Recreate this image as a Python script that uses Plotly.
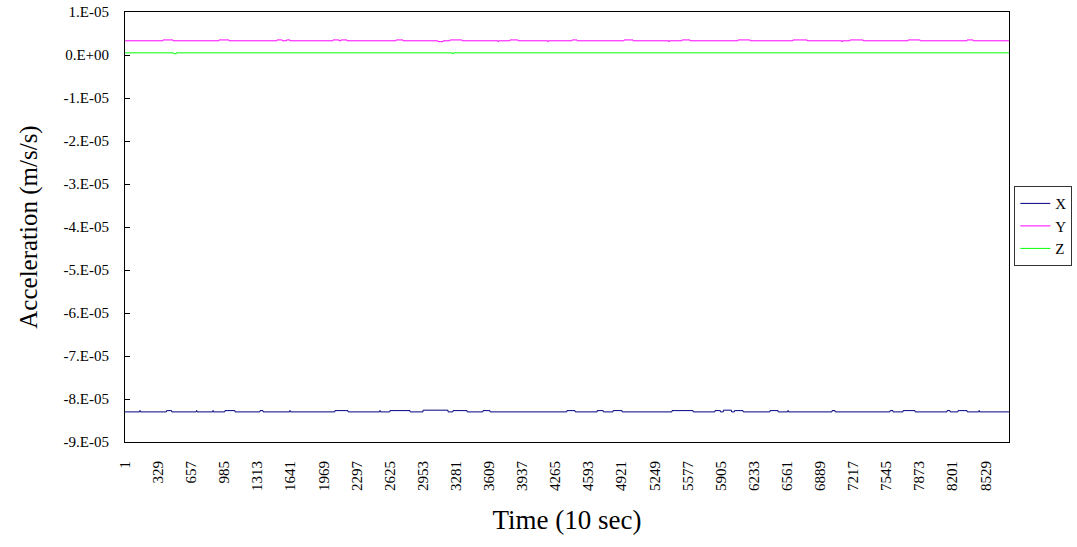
import numpy as np
import plotly.graph_objects as go

# ---- data ----
n_points = 8760                       # time samples (10 sec each)
x_base = -8.30e-05                    # X acceleration baseline
y_base = 3.3e-06                      # Y acceleration baseline
z_base = 5.0e-07                      # Z acceleration baseline

# step deviations: (first sample, last sample, value)
x_steps = [
    (147, 152, -8.27e-05), (413, 463, -8.27e-05), (708, 713, -8.27e-05),
    (871, 876, -8.27e-05), (991, 1090, -8.27e-05), (1338, 1368, -8.27e-05),
    (1633, 1638, -8.27e-05), (2081, 2210, -8.27e-05), (2525, 2530, -8.27e-05),
    (2626, 2825, -8.27e-05), (2954, 3201, -8.26e-05), (3251, 3390, -8.27e-05),
    (3548, 3617, -8.27e-05), (4380, 4460, -8.27e-05), (4680, 4740, -8.27e-05),
    (4837, 4926, -8.27e-05), (5421, 5630, -8.27e-05), (5847, 5900, -8.27e-05),
    (5930, 6010, -8.26e-05), (6040, 6125, -8.27e-05), (6392, 6472, -8.27e-05),
    (6569, 6574, -8.27e-05), (7007, 7037, -8.27e-05), (7582, 7611, -8.27e-05),
    (7711, 7829, -8.27e-05), (8147, 8176, -8.27e-05), (8256, 8345, -8.27e-05),
    (8462, 8467, -8.27e-05),
]
y_steps = [
    (377, 476, 3.5e-06), (932, 1031, 3.5e-06), (1506, 1560, 3.5e-06),
    (1570, 1590, 3.2e-06), (1600, 1635, 3.5e-06), (2061, 2120, 3.5e-06),
    (2140, 2200, 3.5e-06), (2686, 2755, 3.5e-06), (3102, 3152, 3.1e-06),
    (3221, 3340, 3.5e-06), (3698, 3703, 3.1e-06), (3815, 3895, 3.5e-06),
    (4188, 4193, 3.1e-06), (4430, 4480, 3.5e-06), (4945, 5035, 3.5e-06),
    (5388, 5393, 3.1e-06), (5520, 5600, 3.5e-06), (6075, 6195, 3.5e-06),
    (6620, 6760, 3.5e-06), (7104, 7109, 3.1e-06), (7185, 7315, 3.5e-06),
    (7760, 7880, 3.5e-06), (8345, 8405, 3.5e-06),
]
z_steps = [
    (480, 510, 3.0e-07), (3245, 3255, 3.0e-07),
]

tick_labels = ["1", "329", "657", "985", "1313", "1641", "1969", "2297",
               "2625", "2953", "3281", "3609", "3937", "4265", "4593",
               "4921", "5249", "5577", "5905", "6233", "6561", "6889",
               "7217", "7545", "7873", "8201", "8529"]
y_tick_vals = [1e-05, 0, -1e-05, -2e-05, -3e-05, -4e-05, -5e-05,
               -6e-05, -7e-05, -8e-05, -9e-05]
y_tick_text = ["1.E-05", "0.E+00", "-1.E-05", "-2.E-05", "-3.E-05",
               "-4.E-05", "-5.E-05", "-6.E-05", "-7.E-05", "-8.E-05",
               "-9.E-05"]


def build(base, steps):
    arr = np.full(n_points, base)
    for a, b, v in steps:
        arr[a - 1:b] = v
    return arr


t = np.arange(1, n_points + 1)
series = [
    ("X", build(x_base, x_steps), "#000080"),
    ("Y", build(y_base, y_steps), "#FF00FF"),
    ("Z", build(z_base, z_steps), "#00FF00"),
]

FONT = "Liberation Serif"
fig = go.Figure()
for name, vals, col in series:
    fig.add_trace(go.Scatter(x=t, y=vals, mode="lines", name=name,
                             line=dict(color=col, width=1)))

fig.update_layout(
    width=1077, height=547,
    margin=dict(l=125, r=68, t=12, b=105, autoexpand=False),
    paper_bgcolor="white", plot_bgcolor="white",
    font=dict(family=FONT, color="black", size=15),
    showlegend=True,
    legend=dict(x=1.006, y=0.595, xanchor="left", yanchor="top",
                bordercolor="#333333", borderwidth=1, itemwidth=30,
                font=dict(family=FONT, size=15), bgcolor="white",
                tracegroupgap=0),
)
fig.update_xaxes(
    range=[0.5, n_points + 0.5],
    tickvals=[int(s) for s in tick_labels], ticktext=tick_labels,
    tickangle=-90, tickfont=dict(family=FONT, size=15),
    ticklabelstandoff=12,
    showgrid=False, zeroline=False,
    showline=True, linecolor="black", linewidth=1, mirror=True,
    ticks="", title=dict(text="Time (10 sec)",
                         font=dict(family=FONT, size=27), standoff=20),
)
fig.update_yaxes(
    range=[-9e-05, 1e-05],
    tickvals=y_tick_vals, ticktext=y_tick_text,
    tickfont=dict(family=FONT, size=15),
    ticklabelstandoff=12,
    showgrid=False, zeroline=False,
    showline=True, linecolor="black", linewidth=1, mirror=True,
    ticks="inside", ticklen=5, tickcolor="black",
    title=dict(text="Acceleration (m/s/s)",
               font=dict(family=FONT, size=25), standoff=18),
)

fig.write_html("out.html")
